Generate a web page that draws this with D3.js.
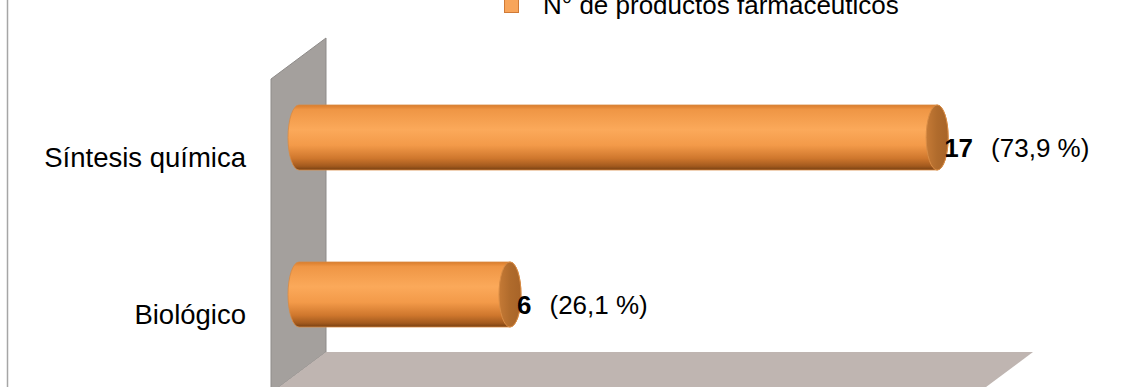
<!DOCTYPE html>
<html>
<head>
<meta charset="utf-8">
<script src="https://cdn.jsdelivr.net/npm/d3@7"></script>
<style>
  html, body { margin: 0; padding: 0; background: #fff; }
  svg { display: block; font-family: "Liberation Sans", Arial, sans-serif; }
</style>
</head>
<body>
<svg id="chart" width="1129" height="387"></svg>
<script>
// ---- data ----
const categories = ["Síntesis química", "Biológico"];
const values = [17, 6];
const percentLabels = ["(73,9 %)", "(26,1 %)"];
const seriesName = "N° de productos farmacéuticos";
const axisMax = 18;

// ---- setup ----
const W = 1129, H = 387;
const svg = d3.select("#chart");

const x = d3.scaleLinear().domain([0, axisMax]).range([288, 987]);
const y = d3.scaleBand().domain(categories).range([59, 373]).paddingInner(0.586).paddingOuter(0.293);

const defs = svg.append("defs");
const bodyGrad = defs.append("linearGradient").attr("id", "cyl").attr("x1", 0).attr("y1", 0).attr("x2", 0).attr("y2", 1);
[[0, "#d97c2c"], [0.07, "#ef9645"], [0.38, "#fba95a"], [0.62, "#f39a49"], [0.82, "#cf772d"], [0.94, "#a35a1e"], [1, "#774012"]]
  .forEach(([o, c]) => bodyGrad.append("stop").attr("offset", o).attr("stop-color", c));
const capGrad = defs.append("linearGradient").attr("id", "cap").attr("x1", 0).attr("y1", 0).attr("x2", 1).attr("y2", 0);
[[0, "#c57a36"], [0.5, "#b06b2c"], [1, "#a86428"]]
  .forEach(([o, c]) => capGrad.append("stop").attr("offset", o).attr("stop-color", c));

// left chart border
svg.append("line").attr("x1", 7.5).attr("x2", 7.5).attr("y1", 0).attr("y2", H)
  .attr("stroke", "#a6a6a6").attr("stroke-width", 1.5);

// ---- 3D back wall & floor ----
const depthX = 55, depthY = 41;
const frontX0 = x(0) - 17;               // front-left edge of the wall
const backX0 = frontX0 + depthX;         // back plane
const floorBackY = 352;
const wallTopBack = 38;
const floorBackRight = x(axisMax) + 46;

svg.append("path")
  .attr("d", `M${frontX0},${wallTopBack + depthY} L${backX0},${wallTopBack} L${backX0},${floorBackY} L${frontX0},${floorBackY + depthY} Z`)
  .attr("fill", "#a4a09d").attr("stroke", "#8e8b89").attr("stroke-width", 1);
svg.append("path")
  .attr("d", `M${backX0},${floorBackY} L${floorBackRight},${floorBackY} L${floorBackRight - depthX},${floorBackY + depthY} L${frontX0},${floorBackY + depthY} Z`)
  .attr("fill", "#bfb5b1");

// ---- cylinders ----
const rx = 11;
const bars = svg.append("g").selectAll("g").data(categories).join("g");
bars.each(function (c, i) {
  const g = d3.select(this);
  const top = y(c), bh = y.bandwidth(), ry = bh / 2, bot = top + bh;
  const x0 = x(0) + rx, x1 = x(values[i]) - rx;
  g.append("path")
    .attr("d", `M${x0},${top} L${x1},${top} A${rx},${ry} 0 0 1 ${x1},${bot} L${x0},${bot} A${rx},${ry} 0 0 1 ${x0},${top} Z`)
    .attr("fill", "url(#cyl)").attr("stroke", "#d98a42").attr("stroke-width", 0.8);
  g.append("ellipse").attr("cx", x1).attr("cy", top + ry).attr("rx", rx).attr("ry", ry)
    .attr("fill", "url(#cap)").attr("stroke", "#d88c45").attr("stroke-width", 1);
});

// ---- category labels ----
svg.append("g").selectAll("text").data(categories).join("text")
  .attr("x", 246).attr("y", d => y(d) + y.bandwidth() / 2 + 29)
  .attr("text-anchor", "end").attr("font-size", 27.5).attr("fill", "#000")
  .text(d => d);

// ---- value labels ----
categories.forEach((c, i) => {
  const cy = y(c) + y.bandwidth() / 2;
  const num = svg.append("text").attr("x", x(values[i]) - 4).attr("y", cy + 19)
    .attr("font-size", 26).attr("font-weight", "bold").attr("fill", "#000").text(values[i]);
  const w = num.node().getComputedTextLength();
  svg.append("text").attr("x", x(values[i]) - 4 + w + 18).attr("y", cy + 19)
    .attr("font-size", 26).attr("fill", "#000").text(percentLabels[i]);
});

// ---- legend ----
svg.append("rect").attr("x", 504.5).attr("y", -1.5).attr("width", 14).attr("height", 14)
  .attr("fill", "#f8a55a").attr("stroke", "#d07a36").attr("stroke-width", 1);
svg.append("text").attr("x", 543).attr("y", 14).attr("font-size", 26).attr("fill", "#000").text(seriesName);
</script>
</body>
</html>
